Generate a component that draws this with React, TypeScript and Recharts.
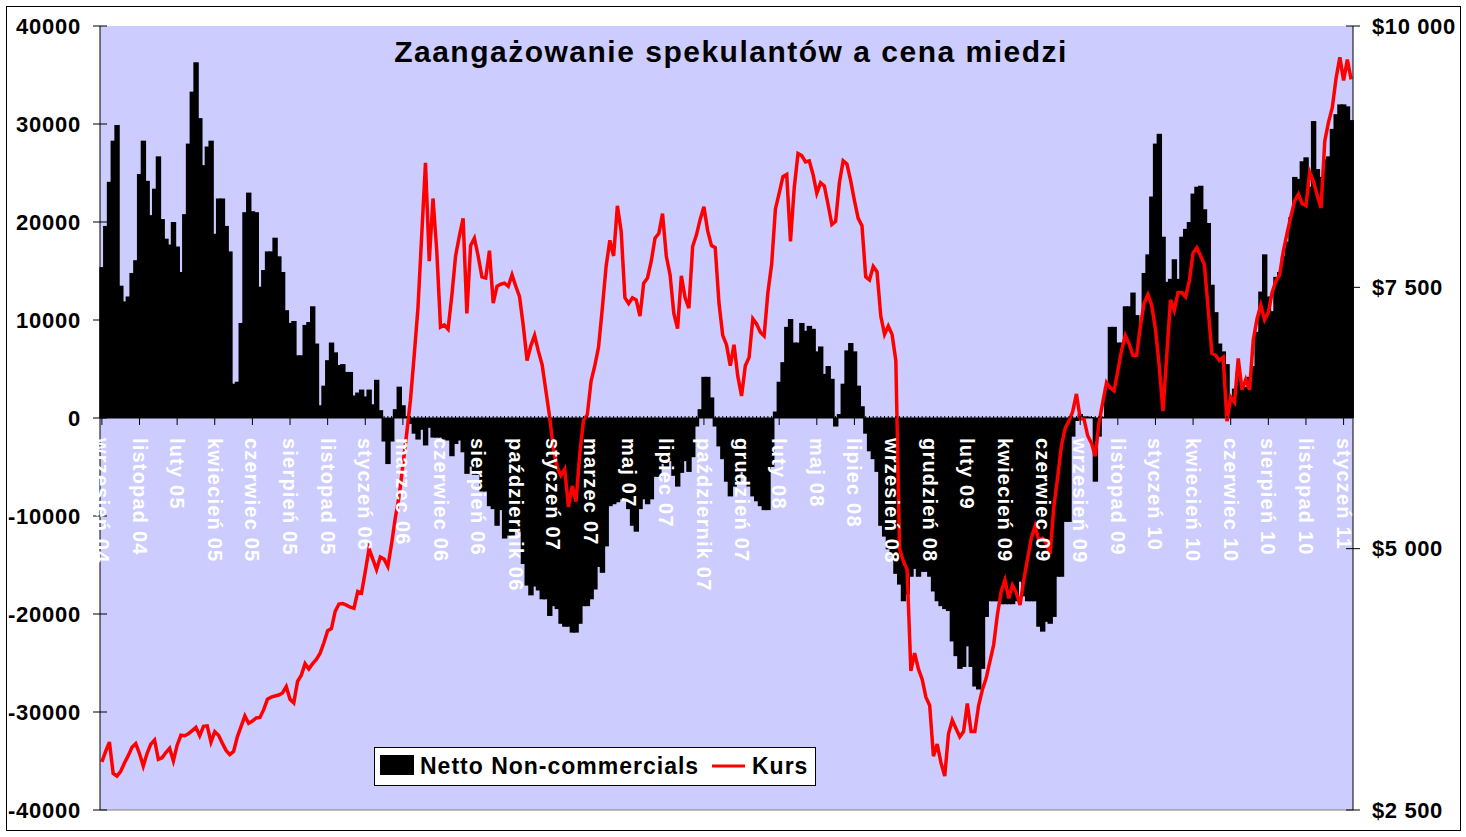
import React from 'react';
import {
  ComposedChart,
  Bar,
  Line,
  XAxis,
  YAxis,
  CartesianGrid,
  ReferenceLine,
} from 'recharts';

// ---- Data (weekly, Sep 2004 – Feb 2011) ----
const NET: number[] = [
  // Sep 2004 – Jul 2005
  15400, 19600, 24100, 28300, 29900, 13500, 11900, 12400, 14800, 16100,
  24900, 28300, 24200, 20700, 23400, 26700, 20300, 18300, 17700, 20000,
  17500, 14900, 20800, 28000, 33300, 36300, 30600, 25800, 27700, 28300,
  18800, 22400, 22400, 19600, 17000, 3500, 3700, 9700, 21000, 23000,
  21100, 21000,
  // Jul 2005 – Apr 2006
  13400, 15100, 17000, 17000, 18400, 16500, 14900, 11000, 9700, 9900,
  6400, 6400, 9500, 9800, 11400, 7600, 1300, 3300, 5900, 7700,
  6700, 5400, 5500, 4700, 4700, 2300, 2600, 2900, 2200, 2900,
  1400, 3900, 800, -2400, -4700, -2400, 900, 3200, 1300, 150,
  -600, -1600,
  // Apr 2006 – Feb 2007
  -2200, -1200, -2800, -1000, -2000, -2000, -2000, -2200, -2300, -3900,
  -2650, -2300, -3500, -5700, -4950, -5800, -5800, -7500, -7500, -9000,
  -9300, -11000, -9400, -12300, -12000, -12000, -11600, -11600, -14900, -17100,
  -18100, -17200, -17600, -18500, -18500, -20200, -19200, -19500, -21000, -21300,
  -21300, -21900,
  // Feb 2007 – Nov 2007
  -21900, -21000, -19200, -19200, -18500, -17500, -15200, -15800, -13100, -9000,
  -8800, -8600, -8300, -8300, -9300, -11000, -11600, -9300, -8300, -8800,
  -8300, -6000, -6000, -4700, -5000, -4400, -5900, -7000, -5600, -4400,
  -5500, -4000, -870, 900, 4200, 4200, 2100, -870, -2900, -4200,
  -6500, -8000,
  // Nov 2007 – Sep 2008
  -7000, -6500, -5500, -6000, -7000, -8000, -8500, -9000, -9400, -9400,
  -5000, 660, 3700, 5700, 9300, 10100, 7700, 7700, 9700, 8900,
  9400, 9100, 6800, 7300, 4500, 5300, 4000, -870, 400, 3500,
  6900, 7650, 6800, 3300, 1200, -1600, -3400, -4200, -5500, -11000,
  -12100, -13400,
  // Sep 2008 – Jun 2009
  -14000, -15900, -17000, -18700, -18000, -16200, -15400, -16200, -15700, -15700,
  -16200, -17700, -18700, -19200, -19500, -19700, -22800, -24300, -25600, -25400,
  -23300, -25400, -27400, -27700, -25600, -20300, -18700, -18700, -18700, -19000,
  -19000, -19000, -19000, -18700, -16700, -18200, -18700, -18700, -18700, -21300,
  -21800, -20800,
  // Jun 2009 – Apr 2010
  -21000, -20300, -16200, -16200, -10600, -10600, -1900, -300, 400, 150,
  150, 100, -6500, -1900, 100, 3200, 9300, 9300, 7700, 7700,
  11400, 11400, 12800, 10500, 9200, 14800, 16700, 22600, 28000, 29000,
  18500, 13900, 14200, 16200, 14200, 18500, 19300, 20000, 22900, 23600,
  23700, 21300,
  // Apr 2010 – Feb 2011
  19900, 13600, 10800, 7600, 6800, 5500, 2100, 3000, 4700, 3200,
  3200, 4200, 5300, 8800, 12900, 16700, 12400, 10900, 14400, 14900,
  16500, 18000, 20500, 24600, 24400, 26200, 26600, 23600, 30300, 25400,
  24600, 26400, 26700, 29500, 31000, 32000, 32000, 31800, 30400,
];

const KURS: number[] = [
  2960, 3060, 3150, 2850, 2825, 2870, 2950, 3020, 3100, 3135,
  3040, 2920, 3040, 3130, 3170, 2985, 3000, 3050, 3090, 2970,
  3120, 3215, 3210, 3230, 3260, 3290, 3210, 3300, 3305, 3150,
  3250, 3215, 3140, 3070, 3030, 3060, 3200, 3300, 3400, 3330,
  3350, 3380,
  3385, 3460, 3560, 3580, 3590, 3600, 3620, 3680, 3560, 3525,
  3730, 3790, 3900, 3850, 3900, 3940, 4000, 4100, 4215, 4235,
  4400, 4470, 4475, 4460, 4440, 4430, 4590, 4575, 4780, 5000,
  4900, 4800, 4920, 4900, 4830, 5050, 5300, 5500, 5800, 6100,
  6420, 6850,
  7300, 8000, 8690, 7750, 8350, 7850, 7120, 7140, 7100, 7420,
  7800, 7990, 8160, 7250, 7900, 7970, 7800, 7600, 7590, 7850,
  7350, 7510, 7530, 7540, 7510, 7620, 7510, 7410, 7130, 6800,
  6940, 7040, 6890, 6760, 6510, 6260, 5950, 5780, 5700, 5760,
  5400, 5600,
  5450, 5900, 6230, 6280, 6600, 6750, 6930, 7300, 7700, 7950,
  7800, 8280, 8040, 7400, 7345, 7400, 7380, 7225, 7540, 7590,
  7750, 7970, 8015, 8205, 7800, 7620, 7250, 7105, 7610, 7400,
  7300, 7890, 8000, 8150, 8270, 8040, 7900, 7880, 7350, 7040,
  6950, 6750,
  6950, 6650, 6460, 6750, 6830, 7200, 7150, 7070, 7035, 7450,
  7720, 8250, 8400, 8560, 8580, 7940, 8450, 8780, 8760, 8700,
  8710, 8580, 8400, 8500, 8470, 8290, 8100, 8130, 8500, 8710,
  8680, 8520, 8330, 8160, 8090, 7600, 7570, 7700, 7650, 7225,
  7050, 7130,
  7050, 6800, 5000, 4880, 4800, 3830, 4000, 3850, 3750, 3580,
  3500, 3015, 3130, 2950, 2825, 3230, 3360, 3280, 3200, 3250,
  3520, 3250, 3250, 3500, 3650, 3760, 3920, 4080, 4370, 4590,
  4700, 4525, 4650, 4580, 4460, 4700, 4900, 5100, 5215, 5080,
  5100, 5050,
  4950, 5400, 5680, 5980, 6150, 6220, 6310, 6480, 6245, 6240,
  6080, 6010, 5885, 6210, 6400, 6590, 6540, 6510, 6700, 6900,
  7040, 6960, 6850, 6850, 7130, 7350, 7430, 7330, 7100, 6750,
  6315, 6850, 7380, 7280, 7450, 7450, 7410, 7560, 7830, 7880,
  7800, 7720,
  7300, 6870, 6850, 6800, 6830, 6220, 6450, 6400, 6820, 6520,
  6620, 6520, 7000, 7200, 7330, 7190, 7260, 7450, 7560, 7620,
  7850, 8020, 8180, 8330, 8390, 8300, 8280, 8600, 8515, 8380,
  8260, 8900, 9080, 9220, 9500, 9700, 9480, 9680, 9490,
];

// One label every 10 weekly categories
const TICK_LABELS: string[] = [
  'wrzesień 04', 'listopad 04', 'luty 05', 'kwiecień 05', 'czerwiec 05',
  'sierpień 05', 'listopad 05', 'styczeń 06', 'marzec 06', 'czerwiec 06',
  'sierpień 06', 'październik 06', 'styczeń 07', 'marzec 07', 'maj 07',
  'lipiec 07', 'październik 07', 'grudzień 07', 'luty 08', 'maj 08',
  'lipiec 08', 'wrzesień 08', 'grudzień 08', 'luty 09', 'kwiecień 09',
  'czerwiec 09', 'wrzesień 09', 'listopad 09', 'styczeń 10', 'kwiecień 10',
  'czerwiec 10', 'sierpień 10', 'listopad 10', 'styczeń 11',
];
const LABEL_EVERY = 10;

const LEFT_TICKS = [-40000, -30000, -20000, -10000, 0, 10000, 20000, 30000, 40000];
const RIGHT_TICKS = [2500, 5000, 7500, 10000];

const TITLE = 'Zaangażowanie spekulantów a cena miedzi';
const SERIES_NET = 'Netto Non-commercials';
const SERIES_KURS = 'Kurs';

const data = NET.map((v, i) => ({ week: i, net: v, kurs: KURS[i] }));

// ---- Layout ----
const W = 1466;
const H = 837;
const PLOT_LEFT = 100;
const PLOT_RIGHT = 1353;
const PLOT_TOP = 26;
const PLOT_BOTTOM = 810;
const ZERO_Y = (PLOT_TOP + PLOT_BOTTOM) / 2;
const FONT = '"Liberation Sans", Arial, Helvetica, sans-serif';

// Bar shape: Recharts' own x/y/width/height, padded slightly so adjacent bars touch
const SolidBar = (props: any) => {
  const { x, y, width, height } = props;
  if (x == null || y == null || !width || !height) return <g />;
  const top = Math.min(y, y + height);
  const h = Math.abs(height);
  return <rect x={x - 0.7} y={top} width={width + 1.4} height={h} fill="#000000" />;
};

const CatTick = (props: any) => {
  const { x, payload } = props;
  const i = Number(payload?.value);
  const major = i % LABEL_EVERY === 0;
  const label = major ? TICK_LABELS[i / LABEL_EVERY] : undefined;
  return (
    <g>
      <line x1={x} x2={x} y1={ZERO_Y - 2} y2={ZERO_Y} stroke="#000" strokeWidth={1} />
      {major && <line x1={x} x2={x} y1={ZERO_Y} y2={ZERO_Y + 7} stroke="#000" strokeWidth={1} />}
      {label && (
        <text
          transform={`translate(${x},${ZERO_Y + 20}) rotate(90)`}
          textAnchor="start"
          dominantBaseline="central"
          fill="#ffffff"
          fontFamily={FONT}
          fontWeight="bold"
          fontSize={20}
          letterSpacing={1.2}
        >
          {label}
        </text>
      )}
    </g>
  );
};

const LeftTick = (props: any) => {
  const { y, payload } = props;
  return (
    <g>
      <line x1={PLOT_LEFT - 7} x2={PLOT_LEFT + 7} y1={y} y2={y} stroke="#000" />
      <text
        x={81}
        y={y}
        textAnchor="end"
        dominantBaseline="central"
        fill="#000"
        fontFamily={FONT}
        fontWeight="bold"
        fontSize={22}
        letterSpacing={0.75}
      >
        {String(payload.value)}
      </text>
    </g>
  );
};

const fmtDollar = (v: number) =>
  '$' + String(v).replace(/\B(?=(\d{3})+(?!\d))/g, ' ');

const RightTick = (props: any) => {
  const { y, payload } = props;
  return (
    <g>
      <line x1={PLOT_RIGHT - 7} x2={PLOT_RIGHT + 7} y1={y} y2={y} stroke="#000" />
      <text
        x={1372}
        y={y}
        textAnchor="start"
        dominantBaseline="central"
        fill="#000"
        fontFamily={FONT}
        fontWeight="bold"
        fontSize={22}
        letterSpacing={0.6}
      >
        {fmtDollar(payload.value)}
      </text>
    </g>
  );
};

export default function App() {
  return (
    <div
      style={{
        position: 'absolute',
        left: 0,
        top: 0,
        width: W,
        height: H,
        background: '#ffffff',
        overflow: 'hidden',
        fontFamily: FONT,
      }}
    >
      <ComposedChart
        width={W}
        height={H}
        data={data}
        margin={{ top: PLOT_TOP, right: 13, bottom: H - PLOT_BOTTOM - 1, left: 10 }}
        barCategoryGap={0}
        barGap={0}
      >
        <CartesianGrid fill="#CCCCFF" horizontal={false} vertical={false} stroke="none" />
        <YAxis
          yAxisId="left"
          orientation="left"
          width={90}
          domain={[-40000, 40000]}
          ticks={LEFT_TICKS}
          allowDataOverflow
          axisLine={{ stroke: '#000', strokeWidth: 1 }}
          tickLine={false}
          tick={(p: any) => <LeftTick {...p} />}
        />
        <YAxis
          yAxisId="right"
          orientation="right"
          width={100}
          domain={[2500, 10000]}
          ticks={RIGHT_TICKS}
          allowDataOverflow
          axisLine={{ stroke: '#000', strokeWidth: 1 }}
          tickLine={false}
          tick={(p: any) => <RightTick {...p} />}
        />
        <ReferenceLine yAxisId="left" y={-40000} stroke="#808080" strokeWidth={1} />
        <Bar
          yAxisId="left"
          dataKey="net"
          name={SERIES_NET}
          fill="#000000"
          shape={(p: any) => <SolidBar {...p} />}
          isAnimationActive={false}
        />
        <ReferenceLine yAxisId="left" y={0} stroke="#000" strokeWidth={1} />
        <XAxis
          dataKey="week"
          type="category"
          interval={0}
          height={1}
          axisLine={false}
          tickLine={false}
          tick={(p: any) => <CatTick {...p} />}
        />
        <Line
          yAxisId="right"
          dataKey="kurs"
          name={SERIES_KURS}
          type="linear"
          stroke="#FF0000"
          strokeWidth={3.5}
          dot={false}
          activeDot={false}
          isAnimationActive={false}
        />
      </ComposedChart>
      <svg
        width={W}
        height={H}
        style={{ position: 'absolute', left: 0, top: 0, pointerEvents: 'none' }}
      >
        <rect x={6.5} y={6.5} width={1454} height={824} fill="none" stroke="#000" strokeWidth={1} />
        <text
          x={731}
          y={62}
          textAnchor="middle"
          fontFamily={FONT}
          fontWeight="bold"
          fontSize={30}
          letterSpacing={1.5}
          fill="#000"
        >
          {TITLE}
        </text>
        <rect x={374.5} y={747.5} width={441} height={38} fill="#fff" stroke="#000" strokeWidth={1} />
        <rect x={380} y={755} width={34} height={20} fill="#000" />
        <text
          x={420}
          y={774}
          fontFamily={FONT}
          fontWeight="bold"
          fontSize={23}
          letterSpacing={1}
          fill="#000"
        >
          {SERIES_NET}
        </text>
        <line x1={712} x2={745} y1={766} y2={766} stroke="#FF0000" strokeWidth={3} />
        <text
          x={752}
          y={774}
          fontFamily={FONT}
          fontWeight="bold"
          fontSize={23}
          letterSpacing={1}
          fill="#000"
        >
          {SERIES_KURS}
        </text>
      </svg>
    </div>
  );
}
